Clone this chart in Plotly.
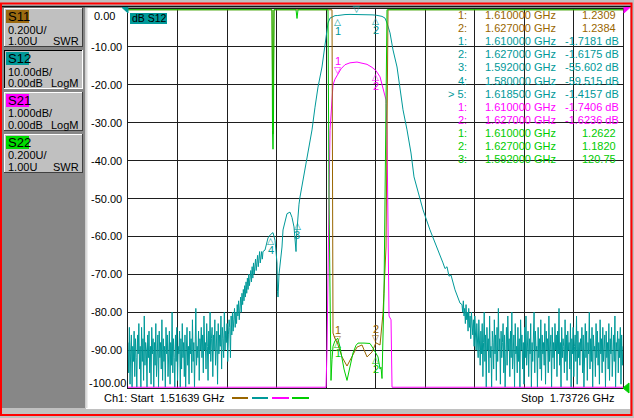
import numpy as np
import plotly.graph_objects as go

START_GHZ = 1.51639
STOP_GHZ = 1.73726

# ---- S12 (teal), LogM 10 dB/div, ref 0 dB at top ----
# noise floor left of the filter, sweep points 1.51639 .. 1.57663 GHz
s12_noise_left = [
    -88, -96, -84, -99, -90, -86, -101, -89, -93, -85,
    -97, -87, -92, -102, -86, -91, -83, -95, -89, -100,
    -84, -93, -87, -98, -81, -94, -88, -90, -103, -86,
    -92, -85, -96, -89, -99, -84, -91, -87, -101, -88,
    -94, -83, -97, -90, -86, -100, -85, -92, -88, -95,
    -82, -98, -87, -93, -89, -102, -84, -91, -86, -97,
    -90, -85, -99, -88, -94, -80, -96, -87, -92, -101,
    -86, -93, -84, -98, -89, -91, -85, -100, -87, -95,
    -83, -92, -88, -97, -86, -103, -90, -84, -94, -89,
    -99, -85, -91, -87, -96, -82, -93, -88, -100, -86,
    -79, -94, -89, -92, -85, -98, -87, -90,
    -84, -92, -86, -96, -81, -90, -88, -95, -83, -89,
    -98, -85, -91, -80, -93, -87, -84, -97, -86, -90,
    -82, -94, -88, -85, -99, -83, -91, -86, -89, -81,
    -95, -84, -87, -92, -80, -90, -85, -88, -83, -93,
    -86, -82,
    -84, -92, -81, -86, -80, -85, -82, -79, -84, -80,
    -83, -78, -81, -77, -82, -79, -76, -80, -75, -78,
    -74, -77, -73, -76, -72, -75, -71, -74, -70, -73,
    -71, -69, -72, -68, -71, -67, -70, -68, -66, -69,
    -67, -65, -68, -66, -64, -67, -65, -64, -66, -64,
]
S12_LEFT_END = 1.57663

# filter response (skirts and passband)
s12_freq = [
    1.57752, 1.57886, 1.58000, 1.58109, 1.58198, 1.58243, 1.58288, 1.58310,
    1.58332, 1.58377, 1.58421, 1.58510, 1.58555, 1.58644, 1.58734, 1.58867,
    1.58957, 1.59046, 1.59113, 1.59136, 1.59157, 1.59200, 1.59269, 1.59314,
    1.59448, 1.59537, 1.59626, 1.59760, 1.59849, 1.59983, 1.60117, 1.60295,
    1.60429, 1.60519, 1.60563, 1.60653, 1.60786, 1.60876, 1.61000, 1.61143,
    1.61322, 1.61545, 1.61850, 1.62081, 1.62304, 1.62527, 1.62700, 1.62839,
    1.62973, 1.63107, 1.63196, 1.63330, 1.63464, 1.63643, 1.63777, 1.63910,
    1.64089, 1.64267, 1.64401, 1.64579, 1.64802, 1.65114, 1.65427, 1.65694,
    1.65784, 1.65873, 1.65962, 1.66051, 1.66230, 1.66453,
]
s12_db = [
    -63.6, -60.4, -59.5, -59.0, -61.0, -64.0, -67.0, -74.5,
    -76.0, -70.0, -68.0, -62.8, -58.3, -55.7, -54.0, -53.6,
    -55.0, -57.5, -62.0, -64.0, -60.0, -55.6, -51.5, -49.6,
    -45.0, -41.5, -38.5, -34.5, -31.9, -25.9, -20.6, -15.3,
    -10.0, -6.3, -3.7, -2.4, -1.9, -1.75, -1.718, -1.55,
    -1.47, -1.43, -1.416, -1.43, -1.47, -1.55, -1.6175, -1.75,
    -1.95, -2.4, -3.7, -6.3, -10.8, -15.3, -20.6, -26.6,
    -31.9, -38.0, -44.3, -48.5, -53.0, -58.3, -62.8, -67.0,
    -68.5, -68.0, -70.5, -70.2, -74.1, -77.6,
]

# noise floor right of the filter, sweep points 1.66542 .. 1.73726 GHz
S12_RIGHT_START = 1.66542
s12_noise_right = [
    -78, -80, -77, -81, -79, -83, -78, -82, -80, -85,
    -79, -84, -81, -87, -80, -83, -86, -82, -89, -81,
    -85, -90, -83, -87, -92, -82, -88,
    -94, -85, -91, -83, -97, -88, -80, -93, -86, -100,
    -84, -90, -87, -96, -81, -92, -89, -102, -85, -88,
    -95, -82, -91, -86, -98, -84, -93, -79, -90, -87,
    -99, -85, -92, -88, -83, -96, -86, -101, -89, -84,
    -94, -81, -90, -87, -97, -85, -92, -80, -95, -88,
    -86, -100, -83, -91, -89, -96, -84, -93, -87, -103,
    -82, -90, -86, -95, -88, -99, -84, -92, -81, -94,
    -89, -85, -97, -87, -91, -83, -100, -88, -93, -86,
    -80, -96, -85, -90, -89, -102, -84, -92, -87, -95,
    -82, -98, -86, -91, -88, -94, -83, -99, -85, -90,
    -87, -96, -81, -93, -89, -86, -101, -84, -92, -88,
    -95, -83, -90, -86, -97, -85, -91, -79, -94, -88,
    -100, -84, -92, -87, -89, -96, -82, -93, -86, -98,
    -85, -90, -88, -95, -83, -102, -87, -91, -84, -97,
    -89, -86, -93, -81, -99, -85, -92, -88, -94, -87,
    -90, -84, -96, -86, -101, -89, -83, -92, -85, -98,
    -88, -91, -80, -95, -87, -93, -84, -100, -86, -90,
    -89, -97, -83, -92, -85, -94, -88, -99, -82, -91,
    -87, -96, -84, -93, -90, -86, -102, -85, -92, -88,
    -95, -83, -98, -87, -91, -84, -97, -89, -86, -93,
    -81, -100, -88, -90, -85, -96, -87, -92, -84, -99,
    -86, -94, -89,
]

# ---- S21 (magenta), LogM 1 dB/div, ref 0 dB at top ----
s21_freq = [
    1.51639, 1.58000, 1.59314, 1.60117, 1.60474, 1.60519, 1.60563, 1.60608,
    1.60653, 1.60697, 1.60742, 1.60786, 1.60876, 1.61000, 1.61143, 1.61322,
    1.61545, 1.61857, 1.62081, 1.62304, 1.62527, 1.62700, 1.62884, 1.63018,
    1.63107, 1.63152, 1.63196, 1.63241, 1.63286, 1.63375, 1.63420, 1.63777,
    1.66007, 1.73726,
]
s21_db = [
    -90, -59.5, -49.6, -20.6, -10.5, -9.0, -7.5, -5.0,
    -3.2, -2.8, -2.4, -2.0, -1.85, -1.7406, -1.58, -1.47,
    -1.42, -1.40, -1.42, -1.46, -1.54, -1.6236, -1.79, -2.08,
    -2.32, -2.4, -3.3, -6.1, -8.1, -8.2, -10.5, -20.6,
    -70.7, -90,
]

# ---- S11 (brown) and S22 (green), SWR 0.2/div, 1.00 at bottom ----
s11_freq = [
    1.51639, 1.57663, 1.58064, 1.58109, 1.58154, 1.59136, 1.60519, 1.60697,
    1.60742, 1.60786, 1.60876, 1.61000, 1.61188, 1.61411, 1.61634, 1.61857,
    1.62081, 1.62304, 1.62527, 1.62700, 1.62884, 1.63018, 1.63152, 1.63241,
    1.63420, 1.73726,
]
s11_swr = [
    40, 15, 6, 2.34, 6, 10, 25, 8,
    3.5, 1.29, 1.26, 1.2309, 1.164, 1.116, 1.164, 1.216,
    1.227, 1.164, 1.19, 1.2384, 1.227, 1.396, 1.744, 4,
    12, 40,
]
s22_freq = [
    1.51639, 1.57663, 1.58064, 1.58087, 1.58109, 1.58131, 1.58154, 1.59136,
    1.59180, 1.59225, 1.60474, 1.60563, 1.60608, 1.60653, 1.60697, 1.60742,
    1.60786, 1.60876, 1.61000, 1.61098, 1.61277, 1.61411, 1.61545, 1.61679,
    1.61813, 1.61902, 1.62170, 1.62438, 1.62572, 1.62700, 1.62794, 1.62884,
    1.62928, 1.62973, 1.63062, 1.63152, 1.63196, 1.73726,
]
s22_swr = [
    40, 15, 5, 2.36, 2.26, 2.4, 5, 6,
    2.95, 5, 20, 6, 2.0, 1.6, 1.04, 1.15,
    1.22, 1.25, 1.2622, 1.215, 1.10, 1.04, 1.12, 1.185,
    1.225, 1.237, 1.237, 1.235, 1.21, 1.182, 1.164, 1.10,
    1.11, 1.05, 1.5, 2.5, 6, 40,
]

# marker readout
readout_trace = ["S11", "S11", "S12", "S12", "S12", "S12", "S12", "S21", "S21", "S22", "S22", "S22"]
readout_num = ["1:", "2:", "1:", "2:", "3:", "4:", "> 5:", "1:", "2:", "1:", "2:", "3:"]
readout_freq = ["1.610000 GHz", "1.627000 GHz", "1.610000 GHz", "1.627000 GHz", "1.592000 GHz",
                "1.580000 GHz", "1.618500 GHz", "1.610000 GHz", "1.627000 GHz", "1.610000 GHz",
                "1.627000 GHz", "1.592000 GHz"]
readout_val = ["1.2309", "1.2384", "-1.7181 dB", "-1.6175 dB", "-55.602 dB", "-59.515 dB",
               "-1.4157 dB", "-1.7406 dB", "-1.6236 dB", "1.2622", "1.1820", "120.75"]

# markers drawn on the traces
mk_trace = ["S12", "S12", "S12", "S12", "S12", "S21", "S21", "S11", "S11", "S22", "S22"]
mk_freq = [1.610, 1.627, 1.592, 1.580, 1.6185, 1.610, 1.627, 1.610, 1.627, 1.610, 1.627]
mk_value = [-1.7181, -1.6175, -55.602, -59.515, -1.4157, -1.7406, -1.6236, 1.2309, 1.2384, 1.2622, 1.1820]
mk_label = ["1", "2", "3", "4", "", "1", "2", "1", "2", "1", "2"]
mk_above = [False, False, False, False, True, True, False, True, True, False, False]

# channel buttons
ch_names = ["S11", "S12", "S21", "S22"]
ch_scale = ["0.200U/", "10.00dB/", "1.000dB/", "0.200U/"]
ch_ref = ["1.00U", "0.00dB", "0.00dB", "1.00U"]
ch_format = ["SWR", "LogM", "LogM", "SWR"]

COLORS = {"S11": "#996600", "S12": "#009999", "S21": "#ff00ff", "S22": "#00cc00"}
TAG_COLORS = {"S11": "#9c6a10", "S12": "#009999", "S21": "#ff00ff", "S22": "#00dd00"}
AXIS = {"S11": "y3", "S12": "y", "S21": "y2", "S22": "y3"}
RANGES = {"y": (-100, 0), "y2": (-10, 0), "y3": (1.0, 3.0)}
FONT = "Liberation Sans, Arial, sans-serif"

# page geometry (pixels)
WIDTH, HEIGHT = 634, 418
L, R, T, B = 128, 623, 9, 388


def X(px):
    return (px - L) / (R - L)


def Y(py):
    return (B - py) / (B - T)


def clamp(v, ax):
    lo, hi = RANGES[ax]
    eps = (hi - lo) * 0.002
    return np.clip(np.asarray(v, dtype=float), lo + eps, hi - eps)


s12_f = np.concatenate([np.linspace(START_GHZ, S12_LEFT_END, len(s12_noise_left)),
                        s12_freq,
                        np.linspace(S12_RIGHT_START, STOP_GHZ, len(s12_noise_right))])
s12_v = np.concatenate([s12_noise_left, s12_db, s12_noise_right])

fig = go.Figure()
for name, f, v in [("S11", s11_freq, s11_swr), ("S12", s12_f, s12_v),
                   ("S21", s21_freq, s21_db), ("S22", s22_freq, s22_swr)]:
    ax = AXIS[name]
    fig.add_trace(go.Scatter(x=f, y=clamp(v, ax), yaxis=ax, mode="lines", name=name,
                             line=dict(color=COLORS[name], width=1), hoverinfo="skip"))

shapes = []
ann = []


def rect(x0, y0, x1, y1, fill=None, line=None, lw=1, layer="below"):
    shapes.append(dict(type="rect", xref="paper", yref="paper", x0=X(x0), x1=X(x1), y0=Y(y0), y1=Y(y1),
                       fillcolor=fill if fill else "rgba(0,0,0,0)",
                       line=dict(color=line if line else "rgba(0,0,0,0)", width=lw if line else 0),
                       layer=layer))


def hline(x0, x1, y, color, lw=1, layer="below"):
    shapes.append(dict(type="line", xref="paper", yref="paper", x0=X(x0), x1=X(x1), y0=Y(y), y1=Y(y),
                       line=dict(color=color, width=lw), layer=layer))


def vline(x, y0, y1, color, lw=1, layer="below"):
    shapes.append(dict(type="line", xref="paper", yref="paper", x0=X(x), x1=X(x), y0=Y(y0), y1=Y(y1),
                       line=dict(color=color, width=lw), layer=layer))


def text(x, y, s, anchor="left", color="black", size=11, family=FONT):
    ann.append(dict(xref="paper", yref="paper", x=X(x), y=Y(y), text=s, showarrow=False,
                    xanchor=anchor, yanchor="middle", font=dict(family=family, size=size, color=color)))


def tri(points, color):
    d = "M " + " L ".join(f"{X(px)},{Y(py)}" for px, py in points) + " Z"
    shapes.append(dict(type="path", xref="paper", yref="paper", path=d, fillcolor=color,
                       line=dict(color=color, width=1), layer="above"))


# window frame
rect(86, 8, 630, 409, fill="white")
rect(2, 6, 85, 408, fill="#878787")
vline(86.5, 8, 408, "#dcdcdc", 2)
hline(2, 632, 6.5, "#101010", 1.5)
rect(1, 3.5, 631.5, 415, line="#ff0000", lw=2)

# channel buttons
for i, name in enumerate(ch_names):
    top = 8 + 42 * i
    bot = top + 39
    rect(4, top, 83, bot, fill="#c0c0c0")
    pressed = name == "S12"
    hi, lo = ("#000000", "#ffffff") if pressed else ("#ffffff", "#404040")
    hline(4, 83, top + 0.5, hi)
    vline(4.5, top, bot, hi)
    hline(4, 83, bot - 0.5, lo)
    vline(82.5, top, bot, lo)
    rect(6, top + 2, 29, top + 15, fill=TAG_COLORS[name])
    text(5.5, top + 8.5, name, size=13)
    text(5.5, top + 21.5, ch_scale[i])
    text(5.5, top + 32.5, ch_ref[i])
    text(81, top + 32.5, ch_format[i], anchor="right")

# y scale labels (S12 dB)
for v in range(0, -101, -10):
    shift = -7 if v == 0 else (5 if v == -100 else 0)
    xl = 92 if v == 0 else (87 if v == -100 else 89)
    ann.append(dict(xref="paper", yref="y", x=X(xl), y=v, yshift=shift, text=f"{v:.2f}",
                    showarrow=False, xanchor="left", yanchor="middle",
                    font=dict(family=FONT, size=11, color="black")))

# trace title and reference pointers
rect(130, 13, 167, 24, fill="#009999", layer="above")
text(129.5, 18.5, "dB S12", size=10.5)
tri([(122, 7.5), (128, 7.5), (128, 13)], "#009999")
tri([(624, 7.5), (630, 7.5), (624, 13)], "#ff00ff")
tri([(623, 388), (629, 383), (629, 393)], "#00cc00")

# bottom status line
text(102, 398, "Ch1: Start\u00a0\u00a01.51639 GHz")
text(617, 398, "Stop\u00a0\u00a01.73726 GHz", anchor="right")
for (x0, x1), name in zip([(232, 248), (252, 268), (272, 289), (292, 309)], ch_names):
    hline(x0, x1, 398, COLORS[name], 2)

# marker readout table
for i in range(len(readout_num)):
    yy = 15 + 13.1 * i
    c = COLORS[readout_trace[i]]
    text(469, yy, readout_num[i], anchor="right", color=c)
    text(558, yy, readout_freq[i], anchor="right", color=c)
    text(621 if "dB" in readout_val[i] else 618, yy, readout_val[i], anchor="right", color=c)

# markers on traces
for name, f, v, lab, above in zip(mk_trace, mk_freq, mk_value, mk_label, mk_above):
    ax = AXIS[name]
    glyph, s1, s2 = ("\u25bd", 5, 14) if above else ("\u25b3", -6, -15)
    ann.append(dict(xref="x", yref=ax, x=f, y=v, yshift=s1, text=glyph, showarrow=False,
                    font=dict(family="DejaVu Sans", size=9, color=COLORS[name])))
    if lab:
        ann.append(dict(xref="x", yref=ax, x=f, y=v, yshift=s2, text=lab, showarrow=False,
                        font=dict(family=FONT, size=11, color=COLORS[name])))

grid = "#1e1e1e"
fig.update_layout(
    width=WIDTH, height=HEIGHT, autosize=False,
    margin=dict(l=L, r=WIDTH - R, t=T, b=HEIGHT - B, pad=0),
    paper_bgcolor="#c0c0c0", plot_bgcolor="white",
    showlegend=False, font=dict(family=FONT, size=11, color="black"),
    xaxis=dict(range=[START_GHZ, STOP_GHZ], tick0=START_GHZ, dtick=(STOP_GHZ - START_GHZ) / 10,
               showticklabels=False, ticks="", showgrid=True, gridcolor=grid, gridwidth=1,
               zeroline=False, showline=True, linecolor=grid, linewidth=1, mirror=True),
    yaxis=dict(range=list(RANGES["y"]), tickvals=list(range(-90, 0, 10)), showticklabels=False,
               ticks="", showgrid=True, gridcolor=grid, gridwidth=1, zeroline=False,
               showline=True, linecolor=grid, linewidth=1, mirror=True),
    yaxis2=dict(range=list(RANGES["y2"]), overlaying="y", visible=False),
    yaxis3=dict(range=list(RANGES["y3"]), overlaying="y", visible=False),
    shapes=shapes, annotations=ann,
)

# the page's default body margin would push the fixed-size figure off the window
fig.write_html("out.html", config={"displayModeBar": False},
               post_script="document.body.style.margin='0';")
